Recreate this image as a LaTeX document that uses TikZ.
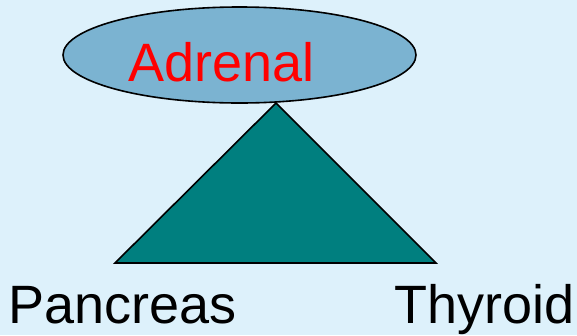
\documentclass[tikz,border=0pt]{standalone}
\usepackage{fontspec}
\setmainfont{Liberation Sans}
\usetikzlibrary{shapes.geometric}
\definecolor{bgblue}{HTML}{DDF1FB}
\definecolor{ellfill}{HTML}{7BB3D1}
\definecolor{tealfill}{HTML}{007F7F}
\tikzset{
  organ/.style={font=\fontsize{54}{62}\selectfont, inner sep=0pt},
  shapeline/.style={draw=black, line width=1.6pt}
}
\begin{document}
\begin{tikzpicture}[x=1pt,y=-1pt]
\fill[bgblue] (0,0) rectangle (577,335);
\useasboundingbox (0,0) rectangle (577,335);
\node[shapeline, ellipse, fill=ellfill, minimum width=353pt, minimum height=96pt, inner sep=0pt] (adr) at (239.5,55) {};
\node[organ, text=red, anchor=base west] (adrlbl) at (128,81) {Adrenal};
\coordinate (apex) at (276,103);
\coordinate (bl) at (115,263);
\coordinate (br) at (436,263);
\draw[shapeline, fill=tealfill, line join=miter] (apex) -- (br) -- (bl) -- cycle;
\node[organ, anchor=base west] (pan) at (8,323) {Pancreas};
\node[organ, anchor=base east] (thy) at (575,323) {Thyroid};
\end{tikzpicture}
\end{document}
